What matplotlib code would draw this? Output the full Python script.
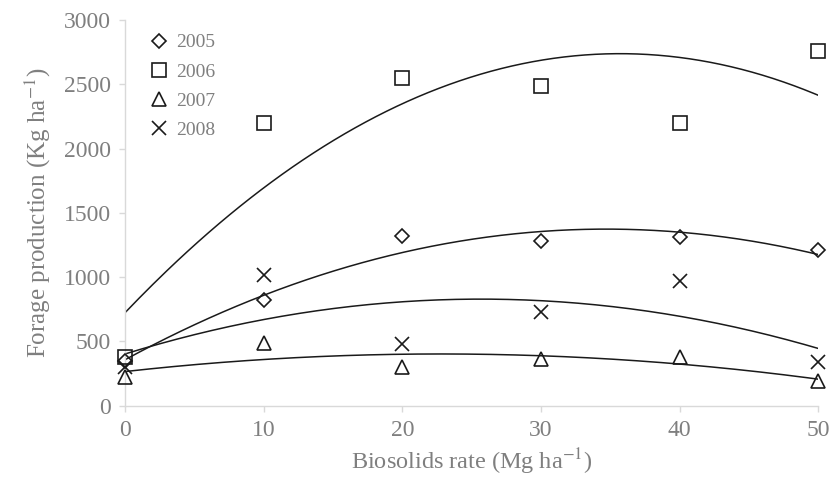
import numpy as np
import matplotlib.pyplot as plt

plt.rcParams["font.family"] = ["Liberation Serif", "DejaVu Serif"]
plt.rcParams["mathtext.fontset"] = "stix"

# Biosolids rate (Mg/ha) and forage production (Kg/ha) per year
rates = [0, 10, 20, 30, 40, 50]
y2005 = [350, 820, 1320, 1280, 1310, 1210]
y2006 = [380, 2200, 2550, 2490, 2200, 2760]
y2007 = [220, 490, 300, 365, 380, 190]
y2008 = [300, 1020, 480, 730, 970, 340]

years = ['2005', '2006', '2007', '2008']
series = [y2005, y2006, y2007, y2008]
markers = ['D', 's', '^', 'x']
msizes = [7, 10, 10.5, 10.5]

gray = '#7f7f7f'
light = '#d9d9d9'

fig = plt.figure(figsize=(8.34, 4.79), dpi=100)
ax = fig.add_axes([0.1499, 0.153, 0.8313, 0.805])

xs = np.linspace(0, 50, 200)
for yr, vals, m, ms in zip(years, series, markers, msizes):
    # quadratic trendline fitted to the points
    coef = np.polyfit(rates, vals, 2)
    ax.plot(xs, np.polyval(coef, xs), color='#1a1a1a', linewidth=1.1)
    ax.plot(rates, vals, linestyle='none', marker=m, markersize=ms,
            markerfacecolor='none', markeredgecolor='#1a1a1a',
            markeredgewidth=1.2, clip_on=False, label=yr, zorder=3)

ax.set_xlim(0, 50)
ax.set_ylim(0, 3000)
ax.set_xticks(np.arange(0, 51, 10))
ax.set_yticks(np.arange(0, 3001, 500))

for side in ['top', 'right']:
    ax.spines[side].set_visible(False)
for side in ['left', 'bottom']:
    ax.spines[side].set_color(light)
    ax.spines[side].set_linewidth(1.0)

ax.tick_params(axis='both', direction='out', length=4, width=1.0,
               color=light, labelcolor=gray, labelsize=17, pad=6)

ax.set_xlabel('Biosolids rate (Mg ha$^{-1}$)', fontsize=17.5, color=gray,
              labelpad=4)
ax.set_ylabel('Forage production (Kg ha$^{-1}$)', fontsize=18, color=gray,
              labelpad=8)

leg = ax.legend(loc='upper left', frameon=False, fontsize=14,
                handlelength=1.0, handletextpad=0.4, labelspacing=0.6,
                borderaxespad=0.3, bbox_to_anchor=(0.0155, 1.0))
for t in leg.get_texts():
    t.set_color(gray)

plt.savefig('out.png', dpi=100)
